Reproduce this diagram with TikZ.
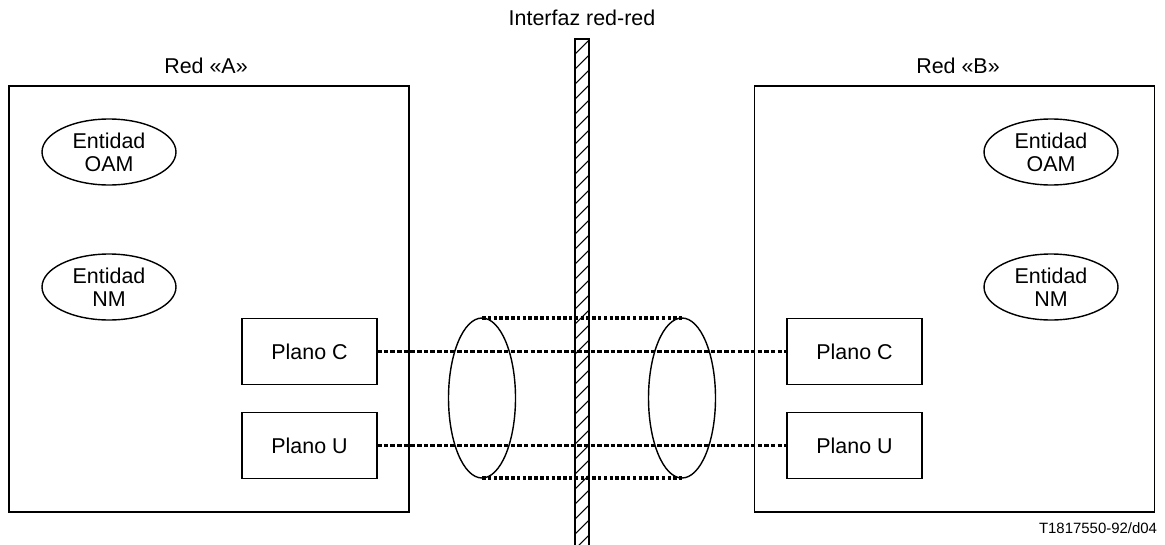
\documentclass[tikz,border=0pt]{standalone}
\usepackage{fontspec}
\setmainfont{Liberation Sans}
\usepackage{tikz}
\usetikzlibrary{positioning}
\usetikzlibrary{shapes}
\usetikzlibrary{calc}
\tikzstyle{network}=[rectangle,draw,thick,minimum width=8cm,minimum height=8.52cm,inner sep=0pt,outer sep=0pt]
\tikzstyle{entity}=[ellipse,draw,thick,minimum width=2.68cm,minimum height=1.32cm,inner sep=0pt,outer sep=0pt,align=center]
\tikzstyle{plane}=[rectangle,draw,thick,minimum width=2.7cm,minimum height=1.32cm,inner sep=0pt,outer sep=0pt]
\tikzstyle{tube}=[ellipse,draw,thick,minimum width=1.34cm,minimum height=3.2cm,inner sep=0pt,outer sep=0pt]
\tikzstyle{link} = [draw,line width=1.2pt,dash pattern=on 2.6pt off 1.2pt]
\tikzstyle{rim} = [draw,line width=2pt,dash pattern=on 2pt off 1.3pt]
\tikzstyle{caption} = [font=\fontsize{12.2}{13.2}\selectfont]

\begin{document}
\begin{tikzpicture}[x=0.02cm,y=-0.02cm,caption]
  \useasboundingbox (0,0) rectangle (1165,544);

  % the two networks
  \node[network] (netA) at (209,299) {};
  \node[network] (netB) at (954.5,299) {};
  \node at (206,66) {Red «A»};
  \node at (958,66) {Red «B»};
  \node at (582,18) {Interfaz red-red};

  \foreach \pos/\name/\txt in {{(109,152)/oamA/OAM}, {(109,287)/nmA/NM}, {(1051,152)/oamB/OAM}, {(1051,287)/nmB/NM}}
      \node[entity] (\name) at \pos {Entidad\\\txt};

  \foreach \pos/\name/\txt in {{(309.5,351.5)/cA/Plano C}, {(309.5,445.5)/uA/Plano U}, {(854.5,351.5)/cB/Plano C}, {(854.5,445.5)/uB/Plano U}}
      \node[plane] (\name) at \pos {\txt};

  % the hatched interface bar
  \begin{scope}
    \clip (575,39) rectangle (589,548);
    \foreach \y in {25,40,...,560}
        \draw[line width=0.6pt] (575,\y+14) -- (589,\y);
  \end{scope}
  \draw[thick] (575,39) rectangle (589,548);

  % the connection tube
  \node[tube] (tubeA) at (482,398) {};
  \node[tube] (tubeB) at (682,398) {};
  \path[rim] (tubeA.north) -- (tubeB.north);
  \path[rim] (tubeA.south) -- (tubeB.south);

  \foreach \source/\dest in {cA/cB, uA/uB}
      \path[link] (\source) -- (\dest);

  \node[font=\fontsize{8.5}{10}\selectfont] at (1098,528) {T1817550-92/d04};
\end{tikzpicture}
\end{document}
